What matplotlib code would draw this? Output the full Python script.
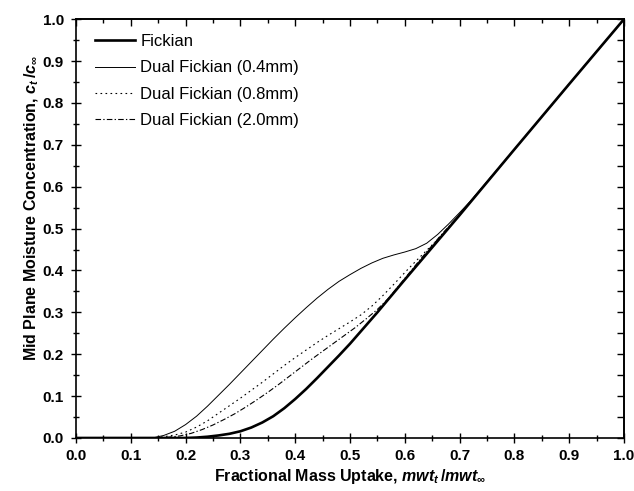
import matplotlib
matplotlib.use("Agg")
import matplotlib.pyplot as plt
from matplotlib.ticker import MultipleLocator

plt.rcParams['font.family'] = ['Liberation Sans', 'DejaVu Sans']
plt.rcParams['mathtext.fontset'] = 'custom'
plt.rcParams['mathtext.rm'] = 'Liberation Sans:bold'
plt.rcParams['mathtext.it'] = 'Liberation Sans:italic:bold'
plt.rcParams['mathtext.bf'] = 'Liberation Sans:bold'

# Fickian
fick_x = [0.0, 0.1, 0.2, 0.22, 0.24, 0.26, 0.28, 0.30, 0.32, 0.34, 0.36, 0.38, 0.40, 0.42, 0.44,
          0.46, 0.48, 0.50, 0.52, 0.55, 0.60, 0.65, 0.70, 0.80, 0.90, 1.0]
fick_y = [0.0, 0.0, 0.0, 0.001, 0.003, 0.006, 0.01, 0.016, 0.025, 0.037, 0.052, 0.071, 0.093, 0.117, 0.143,
          0.17, 0.197, 0.225, 0.255, 0.30, 0.378, 0.455, 0.532, 0.689, 0.845, 1.0]

# Dual Fickian (0.4mm)
d04_x = [0.0, 0.1, 0.14, 0.16, 0.18, 0.20, 0.22, 0.24, 0.26, 0.28, 0.30, 0.32, 0.34, 0.36, 0.38,
         0.40, 0.42, 0.44, 0.46, 0.48, 0.50, 0.52, 0.54, 0.56, 0.58, 0.60, 0.62, 0.64, 0.66, 0.68,
         0.70, 0.72, 0.80, 0.90, 1.0]
d04_y = [0.0, 0.0, 0.0, 0.006, 0.016, 0.032, 0.052, 0.076, 0.102, 0.128, 0.155, 0.182, 0.209, 0.236, 0.262,
         0.287, 0.311, 0.334, 0.355, 0.374, 0.39, 0.405, 0.418, 0.429, 0.437, 0.444, 0.452, 0.465, 0.486, 0.511,
         0.538, 0.566, 0.689, 0.845, 1.0]

# Dual Fickian (0.8mm)
d08_x = [0.0, 0.1, 0.14, 0.16, 0.18, 0.20, 0.22, 0.24, 0.26, 0.28, 0.30, 0.32, 0.34, 0.36, 0.38,
         0.40, 0.42, 0.44, 0.46, 0.48, 0.50, 0.52, 0.54, 0.56, 0.58, 0.60, 0.62, 0.64, 0.66, 0.68,
         0.70, 0.80, 0.90, 1.0]
d08_y = [0.0, 0.0, 0.0, 0.003, 0.007, 0.014, 0.026, 0.041, 0.059, 0.077, 0.095, 0.114, 0.133, 0.153, 0.173,
         0.192, 0.21, 0.228, 0.245, 0.261, 0.277, 0.294, 0.315, 0.34, 0.367, 0.395, 0.422, 0.448, 0.474, 0.503,
         0.533, 0.689, 0.845, 1.0]

# Dual Fickian (2.0mm)
d20_x = [0.0, 0.1, 0.15, 0.17, 0.19, 0.21, 0.23, 0.25, 0.27, 0.29, 0.31, 0.33, 0.35, 0.37, 0.39,
         0.41, 0.43, 0.45, 0.47, 0.49, 0.51, 0.53, 0.55, 0.57, 0.59, 0.61, 0.63, 0.65, 0.67, 0.70,
         0.80, 0.90, 1.0]
d20_y = [0.0, 0.0, 0.0, 0.002, 0.005, 0.011, 0.02, 0.031, 0.044, 0.058, 0.074, 0.091, 0.109, 0.128, 0.148,
         0.168, 0.188, 0.207, 0.226, 0.245, 0.264, 0.285, 0.307, 0.333, 0.365, 0.397, 0.429, 0.46, 0.49, 0.533,
         0.689, 0.845, 1.0]

labels = ["Fickian", "Dual Fickian (0.4mm)", "Dual Fickian (0.8mm)", "Dual Fickian (2.0mm)"]
xticks = [0.0, 0.1, 0.2, 0.3, 0.4, 0.5, 0.6, 0.7, 0.8, 0.9, 1.0]
yticks = [0.0, 0.1, 0.2, 0.3, 0.4, 0.5, 0.6, 0.7, 0.8, 0.9, 1.0]

fig = plt.figure(figsize=(6.34, 4.91), dpi=100)
ax = fig.add_axes([0.1199, 0.108, 0.8643, 0.853])

ax.plot(fick_x, fick_y, color='black', lw=1.9, label=labels[0])
ax.plot(d04_x, d04_y, color='black', lw=0.7, label=labels[1])
ax.plot(d08_x, d08_y, color='black', lw=0.8, linestyle=(0, (1.5, 3)), label=labels[2])
ax.plot(d20_x, d20_y, color='black', lw=0.8, linestyle=(0, (5, 2, 1.2, 2)), label=labels[3])

ax.set_xlim(0, 1)
ax.set_ylim(0, 1)
ax.set_xticks(xticks)
ax.set_yticks(yticks)
ax.set_xticklabels([f"{t:.1f}" for t in xticks])
ax.set_yticklabels([f"{t:.1f}" for t in yticks])
ax.xaxis.set_minor_locator(MultipleLocator(0.05))
ax.yaxis.set_minor_locator(MultipleLocator(0.05))

ax.tick_params(which='major', direction='inout', length=7.5, width=1.0, labelsize=11, top=False, right=False)
ax.tick_params(axis='x', which='major', pad=4)
ax.tick_params(axis='y', which='major', pad=5)
ax.tick_params(which='minor', direction='inout', length=5, width=1.0, top=False, right=False)
for lab in ax.get_xticklabels() + ax.get_yticklabels():
    lab.set_fontweight('bold')

# top/right inward ticks
axt = ax.secondary_xaxis('top')
axt.set_xticks(xticks)
axt.xaxis.set_minor_locator(MultipleLocator(0.05))
axt.tick_params(which='major', direction='in', length=5, width=1.0, labeltop=False)
axt.tick_params(which='minor', direction='in', length=3, width=1.0)
axt.set_xticklabels([])
axr = ax.secondary_yaxis('right')
axr.set_yticks(yticks)
axr.yaxis.set_minor_locator(MultipleLocator(0.05))
axr.tick_params(which='major', direction='in', length=5, width=1.0, labelright=False)
axr.tick_params(which='minor', direction='in', length=5, width=1.0)
axr.set_yticklabels([])

for s in list(ax.spines.values()) + [axt.spines['top'], axr.spines['right']]:
    s.set_linewidth(1.2)

ax.set_xlabel(r"Fractional Mass Uptake, $mwt_t\,/mwt_\infty$", fontsize=11.5, fontweight='bold', labelpad=3)
ax.set_ylabel(r"Mid Plane Moisture Concentration, $c_t\,/c_\infty$", fontsize=11.5, fontweight='bold', labelpad=2)
ax.yaxis.set_label_coords(-0.064, 0.55)

leg = ax.legend(loc='upper left', bbox_to_anchor=(0.008, 1.0), frameon=False, fontsize=12,
                handlelength=2.4, handletextpad=0.3, labelspacing=0.68)

fig.savefig("out.png", dpi=100)
